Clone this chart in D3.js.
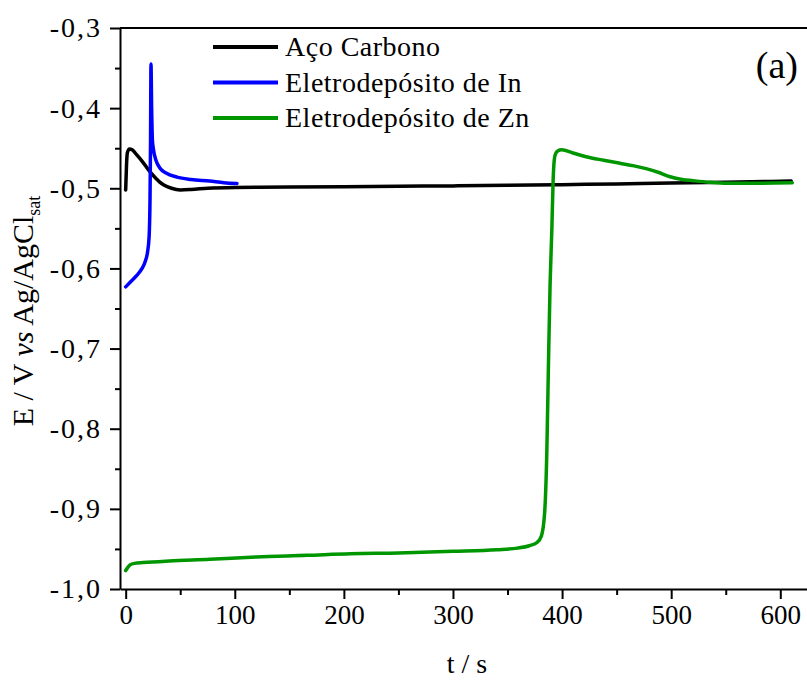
<!DOCTYPE html>
<html>
<head>
<meta charset="utf-8">
<script src="https://cdn.jsdelivr.net/npm/d3@7"></script>
<style>
  body { margin: 0; background: #fff; }
  svg { display: block; font-family: "Liberation Serif", "Times New Roman", serif; }
</style>
</head>
<body>
<svg id="svg1" width="807" height="680"></svg>
<script>
'use strict';

// series names, as in the legend
let seriesNames = ["Aço Carbono", "Eletrodepósito de In", "Eletrodepósito de Zn"];
let seriesColors = ["#000000", "#0000ff", "#009600"];

// Aço Carbono (black)
let tCarbon = [0, 0.8, 1.5, 3.5, 6, 10, 15, 22, 28, 31, 35, 42, 50, 60, 75, 100, 150, 200, 250, 300, 350, 400, 450, 500, 550, 610];
let eCarbon = [-0.502, -0.47, -0.456, -0.451, -0.452, -0.458, -0.466, -0.479, -0.488, -0.492, -0.496, -0.500, -0.502, -0.5015, -0.500, -0.499, -0.4985, -0.498, -0.4975, -0.497, -0.4962, -0.4955, -0.4945, -0.4935, -0.4925, -0.491];

// Eletrodepósito de In (blue)
let tIn = [0, 5, 10, 15, 18, 20, 21.5, 22.3, 22.8, 23.2, 23.8, 24.5, 25.5, 28, 31.5, 37, 47, 60, 77, 90, 102];
let eIn = [-0.623, -0.616, -0.609, -0.600, -0.591, -0.580, -0.560, -0.515, -0.44, -0.345, -0.40, -0.440, -0.452, -0.466, -0.475, -0.481, -0.486, -0.489, -0.491, -0.493, -0.494];

// Eletrodepósito de Zn (green)
let tZn = [0, 2, 4, 8, 16, 40, 77, 120, 166, 206, 250, 300, 340, 359, 370, 377, 381, 384, 386, 387.5, 389, 390.6, 391.8, 392.8, 394, 396, 399.6, 410, 422, 438, 453, 466, 477, 488, 499, 510, 520, 535, 551, 575, 595, 611];
let eZn = [-0.977, -0.973, -0.970, -0.968, -0.967, -0.965, -0.963, -0.960, -0.958, -0.956, -0.955, -0.953, -0.951, -0.949, -0.946, -0.942, -0.934, -0.905, -0.83, -0.72, -0.62, -0.552, -0.49, -0.465, -0.457, -0.4535, -0.452, -0.456, -0.4606, -0.465, -0.4688, -0.472, -0.4755, -0.480, -0.4856, -0.489, -0.4905, -0.4925, -0.4938, -0.4938, -0.4935, -0.493];

// ticks
let xTicks = [0, 100, 200, 300, 400, 500, 600];
let xMinorTicks = [50, 150, 250, 350, 450, 550];
let yTicks = [-1.0, -0.9, -0.8, -0.7, -0.6, -0.5, -0.4, -0.3];
let yMinorTicks = [-0.95, -0.85, -0.75, -0.65, -0.55, -0.45, -0.35];

let marginLeft = 120, marginTop = 28;
let plotW = 700, plotH = 561;

let svg = d3.select("#svg1");
let x = d3.scaleLinear().domain([-5.2, 636.4]).range([0, plotW]);
let y = d3.scaleLinear().domain([-1.0, -0.3]).range([plotH, 0]);
let g = svg.append("g").attr("transform", `translate(${marginLeft},${marginTop})`);

let fmt = d => d.toFixed(1).replace(".", ",");

// data lines
let series = [
    tCarbon.map((t, i) => [t, eCarbon[i]]),
    tIn.map((t, i) => [t, eIn[i]]),
    tZn.map((t, i) => [t, eZn[i]])
];
let line = d3.line().x(d => x(d[0])).y(d => y(d[1])).curve(d3.curveMonotoneX);
// draw order: carbon, zinc, indium on top
[0, 2, 1].forEach(i => {
    g.append("path")
      .datum(series[i])
      .attr("d", line)
      .attr("fill", "none")
      .attr("stroke", seriesColors[i])
      .attr("stroke-width", 3.5)
      .attr("stroke-linejoin", "round")
      .attr("stroke-linecap", "round");
});

// top border
g.append("line")
  .attr("x1", 0).attr("x2", plotW + 20)
  .attr("y1", 0).attr("y2", 0)
  .attr("stroke", "#000").attr("stroke-width", 2);

// x axis
g.append("g")
  .attr("class", "axis axis-x")
  .attr("transform", `translate(0,${plotH})`)
  .call(d3.axisBottom(x).tickValues(xTicks).tickFormat(d => d).tickSize(10).tickSizeOuter(0).tickPadding(6))
  .selectAll(".tick text")
  .style("font-size", "27px");
g.append("g")
  .attr("transform", `translate(0,${plotH})`)
  .call(d3.axisBottom(x).tickValues(xMinorTicks).tickFormat("").tickSize(6).tickSizeOuter(0))
  .select(".domain").remove();

// y axis
g.append("g")
  .attr("class", "axis axis-y")
  .call(d3.axisLeft(y).tickValues(yTicks).tickFormat(fmt).tickSize(10).tickSizeOuter(0).tickPadding(8))
  .selectAll(".tick text")
  .style("font-size", "28px")
  .style("letter-spacing", "2px");
g.append("g")
  .call(d3.axisLeft(y).tickValues(yMinorTicks).tickFormat("").tickSize(5).tickSizeOuter(0))
  .select(".domain").remove();

g.selectAll(".domain").attr("stroke-width", 2);
g.selectAll(".tick line").attr("stroke-width", 2);
g.selectAll(".tick text")
  .style("font-family", "'Liberation Serif', 'Times New Roman', serif")
  .attr("fill", "#000");

// axis titles
svg.append("text")
  .attr("x", 467)
  .attr("y", 673)
  .attr("text-anchor", "middle")
  .style("font-size", "28px")
  .text("t / s");

let yTitle = svg.append("text")
  .attr("transform", "translate(33,311) rotate(-90)")
  .attr("text-anchor", "middle")
  .style("font-size", "30px");
yTitle.append("tspan").text("E / V ");
yTitle.append("tspan").style("font-style", "italic").text("vs");
yTitle.append("tspan").text(" Ag/AgCl");
yTitle.append("tspan").attr("dy", 7).style("font-size", "18px").text("sat");

// panel label
svg.append("text")
  .attr("x", 798)
  .attr("y", 78)
  .attr("text-anchor", "end")
  .style("font-size", "38px")
  .text("(a)");

// legend
let legend = svg.append("g").attr("transform", "translate(213,47)");
seriesNames.forEach((name, i) => {
    legend.append("line")
      .attr("x1", 0).attr("x2", 65)
      .attr("y1", i * 35.5).attr("y2", i * 35.5)
      .attr("stroke", seriesColors[i])
      .attr("stroke-width", 4);
    legend.append("text")
      .attr("x", 72)
      .attr("y", i * 35.5 + 9)
      .style("font-size", "28px")
      .style("letter-spacing", "0.5px")
      .text(name);
});
</script>
</body>
</html>
